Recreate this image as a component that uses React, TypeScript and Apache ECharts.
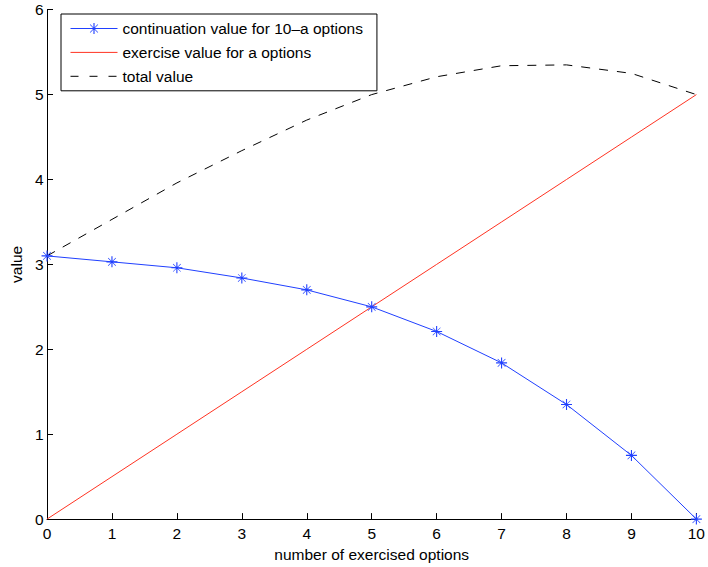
import React, { useEffect, useRef } from "react";
import * as echarts from "echarts";

const xValues = [0, 1, 2, 3, 4, 5, 6, 7, 8, 9, 10];
const continuationValue = [3.10, 3.03, 2.96, 2.84, 2.70, 2.50, 2.21, 1.84, 1.35, 0.75, 0.0];
const exerciseValue = [0, 0.5, 1.0, 1.5, 2.0, 2.5, 3.0, 3.5, 4.0, 4.5, 5.0];
const totalValue = [3.10, 3.53, 3.96, 4.34, 4.70, 5.00, 5.21, 5.34, 5.35, 5.25, 5.00];

const seriesNames = [
  "continuation value for 10\u2013a options",
  "exercise value for a options",
  "total value",
];

const star =
  "path://M0 9H20V11H0Z M9 0H11V20H9Z M2.6 3.4L3.4 2.6L17.4 16.6L16.6 17.4Z M16.6 2.6L17.4 3.4L3.4 17.4L2.6 16.6Z";

const FONT = "Liberation Sans, Arial, Helvetica, sans-serif";
const FS = 15.5;

export default function App() {
  const ref = useRef<HTMLDivElement>(null);
  useEffect(() => {
    if (!ref.current) return;
    const chart = echarts.init(ref.current, undefined, { renderer: "svg" });
    const pairs = (ys: number[]) => xValues.map((x, i) => [x, ys[i]]);
    const hidden = { color: "rgba(0,0,0,0)", borderColor: "rgba(0,0,0,0)", borderWidth: 0 };
    chart.setOption({
      animation: false,
      backgroundColor: "#ffffff",
      textStyle: { fontFamily: FONT },
      grid: { left: 46, right: 9.3, top: 9.7, bottom: 44.3, containLabel: false },
      legend: {
        orient: "vertical",
        left: 61,
        top: 14,
        backgroundColor: "#ffffff",
        borderColor: "#000000",
        borderWidth: 1,
        borderRadius: 0,
        padding: [6.5, 14, 6.5, 9],
        itemGap: 7.9,
        itemWidth: 47,
        itemHeight: 14,
        lineStyle: { width: 1 },
        textStyle: { fontFamily: FONT, fontSize: FS, color: "#000" },
        data: [
          { name: seriesNames[0] },
          { name: seriesNames[1], itemStyle: hidden },
          { name: seriesNames[2], itemStyle: hidden, lineStyle: { width: 1, type: [8, 11] } },
        ],
      },
      xAxis: {
        type: "value",
        min: 0,
        max: 10,
        interval: 1,
        name: "number of exercised options",
        nameLocation: "middle",
        nameGap: 25,
        nameTextStyle: { fontFamily: FONT, fontSize: FS, color: "#000" },
        axisLine: { onZero: false, lineStyle: { color: "#000", width: 1 } },
        axisTick: { inside: true, length: 6, lineStyle: { color: "#000" } },
        axisLabel: { fontFamily: FONT, fontSize: FS, color: "#000", margin: 6 },
        splitLine: { show: false },
      },
      yAxis: {
        type: "value",
        min: 0,
        max: 6,
        interval: 1,
        name: "value",
        nameLocation: "middle",
        nameGap: 21,
        nameRotate: 90,
        nameTextStyle: { fontFamily: FONT, fontSize: FS, color: "#000" },
        axisLine: { onZero: false, lineStyle: { color: "#000", width: 1 } },
        axisTick: { inside: true, length: 6, lineStyle: { color: "#000" } },
        axisLabel: { fontFamily: FONT, fontSize: FS, color: "#000", margin: 3.5 },
        splitLine: { show: false },
      },
      series: [
        {
          name: seriesNames[0],
          type: "line",
          data: pairs(continuationValue),
          symbol: star,
          symbolSize: 11,
          showAllSymbol: true,
          itemStyle: { color: "#2040ff" },
          lineStyle: { color: "#2040ff", width: 1 },
          z: 3,
        },
        {
          name: seriesNames[1],
          type: "line",
          data: pairs(exerciseValue),
          symbol: "none",
          itemStyle: { color: "#ff3322" },
          lineStyle: { color: "#ff3322", width: 1 },
          z: 2,
        },
        {
          name: seriesNames[2],
          type: "line",
          data: pairs(totalValue),
          symbol: "none",
          itemStyle: { color: "#000" },
          lineStyle: { color: "#000", width: 1, type: [9, 9] },
          z: 2,
        },
      ],
    });
    return () => chart.dispose();
  }, []);
  return (
    <div
      ref={ref}
      style={{ position: "absolute", left: 0, top: 0, width: 708, height: 567 }}
    />
  );
}
